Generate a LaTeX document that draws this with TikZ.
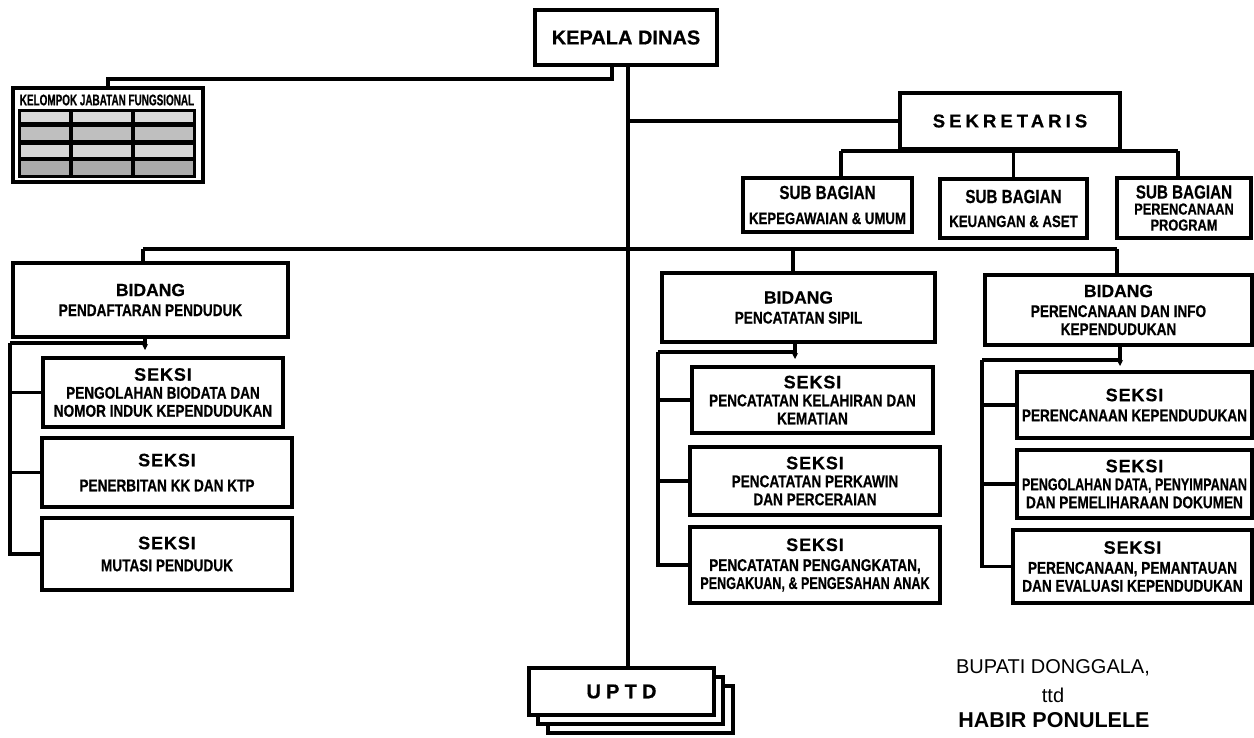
\documentclass[tikz,border=0pt]{standalone}
\usepackage{fontspec}
\setmainfont{Liberation Sans}
\newfontfamily\headbold[FakeBold=0.6]{Liberation Sans Bold}
\newfontfamily\condbold[FakeStretch=0.80,FakeBold=0.5]{Liberation Sans Bold}
\newfontfamily\condboldx[FakeStretch=0.74,FakeBold=0.5]{Liberation Sans Bold}
\newfontfamily\tightbold[FakeStretch=0.64,FakeBold=0.5]{Liberation Sans Bold}
\usetikzlibrary{calc,arrows.meta}

% heading words used inside the boxes
\newcommand\seksihead{{\headbold\fontsize{18}{18}\selectfont\addfontfeature{LetterSpace=5}SEKSI}}
\newcommand\bidanghead{{\headbold\fontsize{17.5}{18}\selectfont BIDANG}}
\newcommand\subhead{{\condbold\fontsize{19}{18}\selectfont SUB BAGIAN}}

\begin{document}
\begin{tikzpicture}[x=1pt,y=-1pt,
  box/.style={draw, line width=3.2pt, fill=white, inner sep=0pt, align=center},
  conn/.style={line width=3.2pt},
  downtip/.style={-{Stealth[length=6pt,width=6pt]}},
  bodytext/.style={font=\condbold\fontsize{17}{18}\selectfont},
  signtext/.style={font=\normalfont\fontsize{20}{22}\selectfont, inner sep=0pt}
]
\fill[white] (0,0) rectangle (1254,737);
\useasboundingbox (0,0) rectangle (1254,737);

% ---------- head of office ----------
\node[box, minimum width=182pt, minimum height=55pt,
      font=\headbold\fontsize{20}{22}\selectfont] (kd) at (626,37.5) {KEPALA DINAS};

% ---------- functional group panel ----------
\node[box, minimum width=190pt, minimum height=94pt] (kjf) at (108,135) {};
\node[font=\tightbold\fontsize{15.5}{16}\selectfont, inner sep=0pt] (kjft) at (107,100) {KELOMPOK JABATAN FUNGSIONAL};
\fill[black] (18,109) rectangle (196,178);
\foreach \xa/\xb in {21/69, 73/131, 135/193}{
  \fill[gray!30] (\xa,112) rectangle (\xb,122);
  \fill[gray!50] (\xa,127) rectangle (\xb,140);
  \fill[gray!32] (\xa,145) rectangle (\xb,157);
  \fill[gray!66] (\xa,161) rectangle (\xb,175);
}

% ---------- secretariat ----------
\node[box, minimum width=220pt, minimum height=56pt,
      font=\headbold\fontsize{18.5}{20}\selectfont\addfontfeature{LetterSpace=22}] (sek) at (1010,121) {SEKRETARIS};

\node[box, font=\condbold\fontsize{16.5}{18}\selectfont,
      minimum width=169pt, minimum height=54pt] (sb1) at (827.5,205)
      {\subhead\\[7pt]KEPEGAWAIAN \& UMUM};
\node[box, font=\condbold\fontsize{16.5}{18}\selectfont,
      minimum width=147pt, minimum height=59pt] (sb2) at (1013.5,208.5)
      {\subhead\\[6pt]KEUANGAN \& ASET};
\node[box, font=\condbold\fontsize{16}{16}\selectfont,
      minimum width=134pt, minimum height=60pt] (sb3) at (1184,208)
      {\subhead\\PERENCANAAN\\PROGRAM};

% ---------- divisions ----------
\node[box, bodytext, minimum width=275pt, minimum height=74pt] (bd1) at (150.5,300)
      {\bidanghead\\[2pt]PENDAFTARAN PENDUDUK};
\node[box, bodytext, minimum width=273pt, minimum height=69pt] (bd2) at (798.5,307.5)
      {\bidanghead\\[2pt]PENCATATAN SIPIL};
\node[box, bodytext, minimum width=267pt, minimum height=70pt] (bd3) at (1118.5,310)
      {\bidanghead\\[2pt]PERENCANAAN DAN INFO\\KEPENDUDUKAN};

% ---------- sections, left ----------
\node[box, bodytext, minimum width=240pt, minimum height=69pt] (s11) at (163,392.5)
      {\seksihead\\PENGOLAHAN BIODATA DAN\\NOMOR INDUK KEPENDUDUKAN};
\node[box, bodytext, minimum width=250pt, minimum height=69pt] (s12) at (167,472.5)
      {\seksihead\\[7pt]PENERBITAN KK DAN KTP};
\node[box, bodytext, minimum width=250pt, minimum height=72pt] (s13) at (167,554)
      {\seksihead\\[4pt]MUTASI PENDUDUK};

% ---------- sections, middle ----------
\node[box, bodytext, minimum width=241pt, minimum height=66pt] (s21) at (812.5,400)
      {\seksihead\\PENCATATAN KELAHIRAN DAN\\KEMATIAN};
\node[box, bodytext, minimum width=250pt, minimum height=68pt] (s22) at (815,481)
      {\seksihead\\PENCATATAN PERKAWIN\\DAN PERCERAIAN};
\node[box, bodytext, minimum width=250pt, minimum height=76pt] (s23) at (815,565)
      {\seksihead\\[2pt]PENCATATAN PENGANGKATAN,\\{\condboldx PENGAKUAN, \& PENGESAHAN ANAK}};

% ---------- sections, right ----------
\node[box, bodytext, minimum width=235pt, minimum height=66pt] (s31) at (1134.5,405)
      {\seksihead\\[2pt]PERENCANAAN KEPENDUDUKAN};
\node[box, bodytext, minimum width=235pt, minimum height=68pt] (s32) at (1134.5,484)
      {\seksihead\\{\condboldx PENGOLAHAN DATA, PENYIMPANAN}\\DAN PEMELIHARAAN DOKUMEN};
\node[box, bodytext, minimum width=239pt, minimum height=73pt] (s33) at (1132.5,566.5)
      {\seksihead\\[2pt]PERENCANAAN, PEMANTAUAN\\DAN EVALUASI KEPENDUDUKAN};

% ---------- technical unit (stacked sheets) ----------
\draw[line width=3.2pt, fill=white] (548,686) rectangle (733,733);
\draw[line width=3.2pt, fill=white] (538,677) rectangle (723,724);
\node[box, minimum width=185pt, minimum height=47pt,
      font=\headbold\fontsize{20}{20}\selectfont\addfontfeature{LetterSpace=26}] (up) at (621.5,691.5) {UPTD};

% ---------- signature ----------
\node[signtext] (bup) at (1053,668) {BUPATI DONGGALA,};
\node[signtext] (ttd) at (1053,695) {ttd};
\node[signtext, font=\normalfont\bfseries\fontsize{21.5}{22}\selectfont] (hab) at (1054,720) {HABIR PONULELE};

% ---------- connectors ----------
\coordinate (tr) at (628,0);
\coordinate (kb) at (612,79);
\draw[conn] (kd.south -| tr) -- (up.north -| tr);
\draw[conn] (kd.south -| kb) -- (kb) -- (kb -| kjf.north) -- (kjf.north);
\draw[conn] (tr |- sek.west) -- (sek.west);

\coordinate (sbl) at (841,151);
\coordinate (sbr) at (1178,151);
\draw[conn] (sbl) -- (sbr);
\draw[conn] (sek.south) -- (sek.south |- sbl);
\draw[conn] (sbl) -- (sbl |- sb1.north);
\draw[conn] (sb2.north |- sbl) -- (sb2.north);
\draw[conn] (sbr) -- (sbr |- sb3.north);

\coordinate (bb1) at (143,249);
\coordinate (bb2) at (793,249);
\coordinate (bb3) at (1117,249);
\draw[conn] (bb1) -- (bb3);
\draw[conn] (bb1) -- (bb1 |- bd1.north);
\draw[conn] (bb2) -- (bb2 |- bd2.north);
\draw[conn] (bb3) -- (bb3 |- bd3.north);

% division 1 to its sections
\coordinate (h1) at (10,343);
\coordinate (a1) at (145,350);
\draw[conn] (h1) -- (h1 -| a1);
\draw[conn, downtip] (a1 |- bd1.south) -- (a1);
\draw[conn] (h1) -- (h1 |- s13.west) -- (s13.west);
\draw[conn] (h1 |- s11.west) -- (s11.west);
\draw[conn] (h1 |- s12.west) -- (s12.west);

% division 2 to its sections
\coordinate (h2) at (658,352);
\coordinate (a2) at (795,359);
\draw[conn] (h2) -- (h2 -| a2);
\draw[conn, downtip] (a2 |- bd2.south) -- (a2);
\draw[conn] (h2) -- (h2 |- s23.west) -- (s23.west);
\draw[conn] (h2 |- s21.west) -- (s21.west);
\draw[conn] (h2 |- s22.west) -- (s22.west);

% division 3 to its sections
\coordinate (h3) at (982,360);
\coordinate (a3) at (1120,366);
\draw[conn] (h3) -- (h3 -| a3);
\draw[conn, downtip] (a3 |- bd3.south) -- (a3);
\draw[conn] (h3) -- (h3 |- s33.west) -- (s33.west);
\draw[conn] (h3 |- s31.west) -- (s31.west);
\draw[conn] (h3 |- s32.west) -- (s32.west);
\end{tikzpicture}
\end{document}
